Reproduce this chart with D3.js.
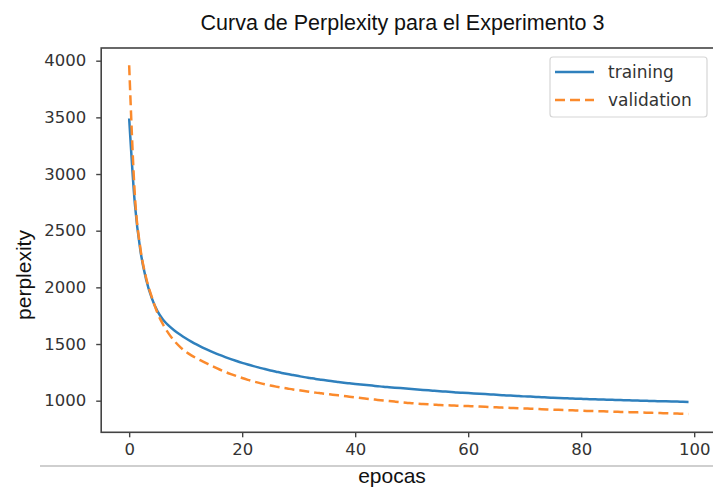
<!DOCTYPE html>
<html>
<head>
<meta charset="utf-8">
<script src="https://cdn.jsdelivr.net/npm/d3@7"></script>
<style>
  html, body { margin: 0; padding: 0; background: #fff; overflow: hidden; }
  svg { display: block; }
</style>
</head>
<body>
<svg id="chart" width="713" height="488"></svg>
<script>
const title = "Curva de Perplexity para el Experimento 3";
const xLabel = "epocas";
const yLabel = "perplexity";
const seriesNames = ["training", "validation"];
const xTicks = [0, 20, 40, 60, 80, 100];
const yTicks = [1000, 1500, 2000, 2500, 3000, 3500, 4000];

const training = [3490, 2740, 2320, 2070, 1905, 1790, 1715, 1662, 1620, 1584,
  1551, 1521, 1494, 1469, 1446, 1424, 1404, 1385, 1367, 1350,
  1334, 1319, 1305, 1292, 1279, 1267, 1256, 1245, 1235, 1226,
  1217, 1208, 1200, 1192, 1185, 1178, 1171, 1165, 1159, 1153,
  1148, 1143, 1138, 1133, 1128, 1123, 1119, 1115, 1111, 1107,
  1103, 1099, 1095, 1091, 1087, 1084, 1080, 1077, 1073, 1070,
  1067, 1064, 1061, 1058, 1055, 1052, 1049, 1046, 1044, 1041,
  1038, 1036, 1033, 1031, 1028, 1026, 1024, 1022, 1020, 1018,
  1016, 1014, 1013, 1011, 1010, 1008, 1007, 1005, 1004, 1002,
  1001, 999, 998, 997, 995, 994, 993, 992, 990, 989];

const validation = [3960, 2820, 2340, 2085, 1915, 1775, 1672, 1592, 1527, 1475,
  1433, 1400, 1372, 1347, 1322, 1298, 1275, 1254, 1235, 1217,
  1200, 1184, 1170, 1157, 1145, 1134, 1124, 1115, 1107, 1099,
  1092, 1085, 1078, 1071, 1065, 1059, 1053, 1047, 1041, 1035,
  1029, 1023, 1017, 1012, 1007, 1002, 997, 992, 987, 982,
  978, 974, 971, 968, 965, 962, 960, 958, 956, 954,
  952, 950, 948, 946, 944, 942, 939, 937, 935, 933,
  931, 929, 927, 925, 923, 921, 919, 917, 915, 914,
  912, 910, 909, 907, 906, 904, 903, 901, 900, 898,
  897, 895, 894, 892, 891, 889, 888, 886, 885, 883];

const colors = ["#2f80bd", "#fb8a2c"];

const svg = d3.select("#chart");
const plot = { left: 101.2, right: 716.5, top: 48, bottom: 432.3 };

const x = d3.scaleLinear().domain([-4.95, 103.95]).range([plot.left, plot.right]);
const y = d3.scaleLinear().domain([721, 4112]).range([plot.bottom, plot.top]);

// title
svg.append("text")
  .attr("x", 402.5).attr("y", 30)
  .attr("text-anchor", "middle")
  .attr("font-family", "Liberation Sans, Arial, sans-serif")
  .attr("font-size", 21.5)
  .attr("fill", "#111")
  .text(title);

// lines
const line = d3.line().x((d, i) => x(i)).y(d => y(d)).curve(d3.curveMonotoneX);
svg.append("clipPath").attr("id", "clip")
  .append("rect").attr("x", plot.left).attr("y", plot.top)
  .attr("width", plot.right - plot.left).attr("height", plot.bottom - plot.top);

const g = svg.append("g").attr("clip-path", "url(#clip)");
g.append("path").datum(training)
  .attr("fill", "none").attr("stroke", colors[0]).attr("stroke-width", 2.5)
  .attr("d", line);
g.append("path").datum(validation)
  .attr("fill", "none").attr("stroke", colors[1]).attr("stroke-width", 2.5)
  .attr("stroke-dasharray", "10,5")
  .attr("d", line);

// axes
const xAxis = d3.axisBottom(x).tickValues(xTicks).tickSize(5).tickPadding(6).tickFormat(d3.format("d"));
const yAxis = d3.axisLeft(y).tickValues(yTicks).tickSize(5).tickPadding(10).tickFormat(d3.format("d"));

const gx = svg.append("g").attr("transform", `translate(0,${plot.bottom})`).call(xAxis);
const gy = svg.append("g").attr("transform", `translate(${plot.left},0)`).call(yAxis);
[gx, gy].forEach(a => {
  a.select(".domain").remove();
  a.selectAll(".tick line").attr("stroke", "#444").attr("stroke-width", 1.4);
  a.selectAll(".tick text")
    .attr("font-family", "DejaVu Sans, sans-serif")
    .attr("font-size", 16.5)
    .attr("fill", "#333");
});

// spines
svg.append("rect")
  .attr("x", plot.left).attr("y", plot.top)
  .attr("width", plot.right - plot.left).attr("height", plot.bottom - plot.top)
  .attr("fill", "none").attr("stroke", "#444").attr("stroke-width", 1.6);

// screenshot separator line
svg.append("rect")
  .attr("x", 40).attr("y", 465).attr("width", 673).attr("height", 2)
  .attr("fill", "#cfcfcf");

// axis labels
svg.append("text")
  .attr("x", 392).attr("y", 482.5)
  .attr("text-anchor", "middle")
  .attr("font-family", "Liberation Sans, Arial, sans-serif")
  .attr("font-size", 21)
  .attr("fill", "#111")
  .text(xLabel);

svg.append("text")
  .attr("transform", "translate(31,275) rotate(-90)")
  .attr("text-anchor", "middle")
  .attr("font-family", "Liberation Sans, Arial, sans-serif")
  .attr("font-size", 21)
  .attr("fill", "#111")
  .text(yLabel);

// legend
const lg = svg.append("g");
lg.append("rect")
  .attr("x", 550).attr("y", 57).attr("width", 157).attr("height", 60)
  .attr("rx", 3).attr("fill", "#fff").attr("fill-opacity", 0.8)
  .attr("stroke", "#d6d6d6").attr("stroke-width", 1.2);
seriesNames.forEach((name, i) => {
  const yy = 72 + i * 28;
  lg.append("line")
    .attr("x1", 555).attr("x2", 594).attr("y1", yy).attr("y2", yy)
    .attr("stroke", colors[i]).attr("stroke-width", 2.5)
    .attr("stroke-dasharray", i === 1 ? "10,5" : null);
  lg.append("text")
    .attr("x", 608).attr("y", yy + 6)
    .attr("font-family", "DejaVu Sans, sans-serif")
    .attr("font-size", 17)
    .attr("fill", "#333")
    .text(name);
});
</script>
</body>
</html>
